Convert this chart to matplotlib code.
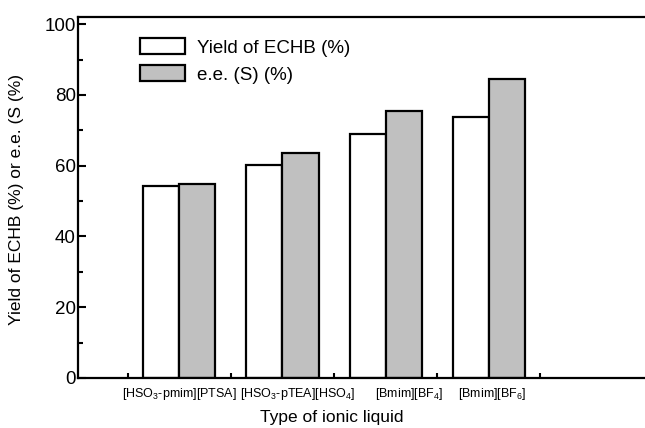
import numpy as np
import matplotlib
matplotlib.use("Agg")
from matplotlib import pyplot as plt
from matplotlib.transforms import ScaledTranslation

plt.rcParams['font.family'] = ['Liberation Sans', 'DejaVu Sans']
plt.rcParams['mathtext.fontset'] = 'custom'
plt.rcParams['mathtext.rm'] = 'Liberation Sans'
plt.rcParams['mathtext.it'] = 'Liberation Sans'

# data
liquids = ["[HSO$_3$-pmim][PTSA]", "[HSO$_3$-pTEA][HSO$_4$]",
           "[Bmim][BF$_4$]", "[Bmim][BF$_6$]"]
yield_echb = [54.3, 60.2, 68.9, 73.8]
ee_s = [54.9, 63.7, 75.5, 84.6]

fig = plt.figure(figsize=(6.45, 4.28), dpi=100)
ax = fig.add_axes([0.121, 0.117, 0.885, 0.843])

x = np.arange(len(liquids))
w = 0.35
ax.bar(x - w / 2, yield_echb, w, color="white", edgecolor="black",
       linewidth=1.6, label="Yield of ECHB (%)")
ax.bar(x + w / 2, ee_s, w, color="#c0c0c0", edgecolor="black",
       linewidth=1.6, label="e.e. (S) (%)")

ax.set_xlim(-0.98, 4.55)
ax.set_ylim(0, 102)

ax.set_yticks([0, 20, 40, 60, 80, 100])
ax.set_yticks(np.arange(10, 100, 20), minor=True)
ax.tick_params(axis='y', which='major', direction='in', length=6, width=1.5,
               labelsize=13.5, pad=1.5)
ax.tick_params(axis='y', which='minor', direction='in', length=3.5, width=1.5)

ax.set_xticks(x)
ax.set_xticklabels(liquids, fontsize=9)
ax.set_xticks(np.arange(-0.5, 4, 1), minor=True)
ax.tick_params(axis='x', which='major', length=0, pad=6)
ax.tick_params(axis='x', which='minor', direction='in', length=3.5, width=1.5)

# small nudges of the category labels as in the original figure
shifts = [0, 11, 17, 2]
for lab, dx in zip(ax.get_xticklabels(), shifts):
    lab.set_transform(lab.get_transform() + ScaledTranslation(dx / 72, 0, fig.dpi_scale_trans))

for side in ['left', 'bottom', 'top']:
    ax.spines[side].set_linewidth(1.6)
ax.spines['right'].set_visible(False)

ax.set_xlabel("Type of ionic liquid", fontsize=12.5)
ax.xaxis.set_label_coords(0.445, -0.088)
ax.set_ylabel("Yield of ECHB (%) or e.e. (S (%)", fontsize=12.5)
ax.yaxis.set_label_coords(-0.095, 0.495)

leg = ax.legend(loc='upper left', bbox_to_anchor=(0.109, 0.942), frameon=False,
                fontsize=13.5, handlelength=2.4, handleheight=0.95,
                handletextpad=0.65, labelspacing=0.45, borderpad=0,
                borderaxespad=0)

plt.savefig("out.png", dpi=100)
